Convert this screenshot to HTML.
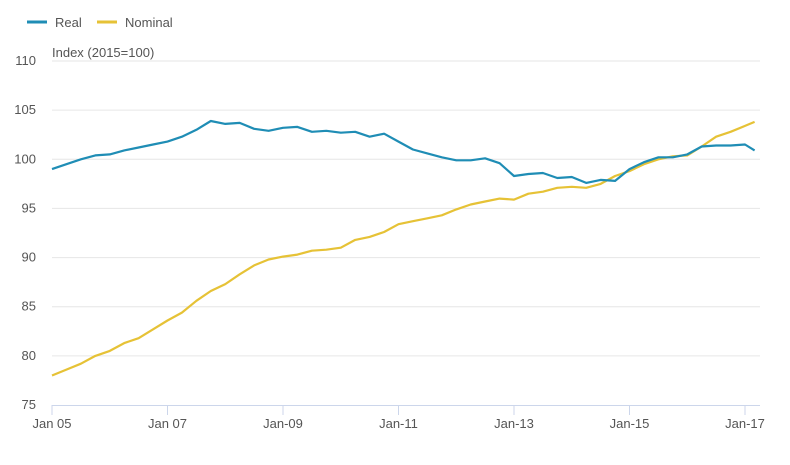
<!DOCTYPE html>
<html><head><meta charset="utf-8"><style>
body{margin:0;background:#fff;font-family:"Liberation Sans",sans-serif}
svg text{font-family:"Liberation Sans",sans-serif;fill:#555;font-size:13px}
</style></head><body>
<svg width="790" height="460">
<g>
<g><line x1="27" y1="22" x2="47" y2="22" stroke="#1f8db5" stroke-width="3"/><text x="55" y="27">Real</text></g>
<g><line x1="97" y1="22" x2="117" y2="22" stroke="#e6c236" stroke-width="3"/><text x="125" y="27">Nominal</text></g>
</g>
<text x="52" y="57">Index (2015=100)</text>
<g id="grid"></g><g id="lines"></g>
</svg>
<script>
const yTicks=[75,80,85,90,95,100,105,110];
const xTickLabels=["Jan 05","Jan 07","Jan-09","Jan-11","Jan-13","Jan-15","Jan-17"];
const xTickMonths=[0,24,48,72,96,120,144];
const months=[0,3,6,9,12,15,18,21,24,27,30,33,36,39,42,45,48,51,54,57,60,63,66,69,72,75,78,81,84,87,90,93,96,99,102,105,108,111,114,117,120,123,126,129,132,135,138,141,144,146];
const real=[99.0,99.5,100.0,100.4,100.5,100.9,101.2,101.5,101.8,102.3,103.0,103.9,103.6,103.7,103.1,102.9,103.2,103.3,102.8,102.9,102.7,102.8,102.3,102.6,101.8,101.0,100.6,100.2,99.9,99.9,100.1,99.6,98.3,98.5,98.6,98.1,98.2,97.6,97.9,97.8,99.0,99.7,100.2,100.2,100.5,101.3,101.4,101.4,101.5,100.9];
const nominal=[78.0,78.6,79.2,80.0,80.5,81.3,81.8,82.7,83.6,84.4,85.6,86.6,87.3,88.3,89.2,89.8,90.1,90.3,90.7,90.8,91.0,91.8,92.1,92.6,93.4,93.7,94.0,94.3,94.9,95.4,95.7,96.0,95.9,96.5,96.7,97.1,97.2,97.1,97.5,98.3,98.8,99.5,100.0,100.3,100.4,101.3,102.3,102.8,103.4,103.8];
const X=m=>52+m*(693/144);
const Y=v=>405-(v-75)*(344/35);
const NS="http://www.w3.org/2000/svg";
const g=document.getElementById('grid'),L=document.getElementById('lines');
function mk(t,a,p){const e=document.createElementNS(NS,t);for(const k in a)e.setAttribute(k,a[k]);p.appendChild(e);return e;}
yTicks.forEach(v=>{
 if(v>75){const l=mk('line',{x1:52,x2:760,y1:Y(v),y2:Y(v),stroke:'#e6e6e6','stroke-width':1},g);
 
 }
 const t=mk('text',{x:36,y:Y(v)+4,'text-anchor':'end'},g);t.textContent=v;
 
 
});
const ax=mk('line',{x1:52,x2:760,y1:405.5,y2:405.5,stroke:'#ccd6eb','stroke-width':1},g);


xTickMonths.forEach((m,i)=>{
 const tk=mk('line',{x1:X(m),x2:X(m),y1:405,y2:415,stroke:'#ccd6eb'},g);
 
 
 const t=mk('text',{x:X(m),y:428,'text-anchor':'middle'},g);t.textContent=xTickLabels[i];
 
 
});
function line(arr,col,name){
 const p=mk('path',{d:arr.map((v,i)=>(i?'L':'M')+X(months[i]).toFixed(1)+','+Y(v).toFixed(1)).join(''),fill:'none',stroke:col,'stroke-width':2.2,'stroke-linejoin':'round'},L);
 
 
}
line(nominal,'#e6c236','nominal-line');
line(real,'#1f8db5','real-line');
</script>
</body></html>
